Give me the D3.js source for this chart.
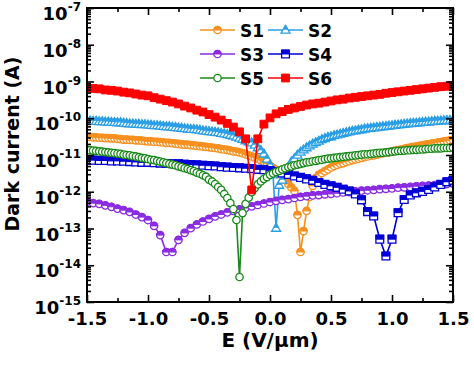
<!DOCTYPE html>
<html><head><meta charset="utf-8">
<script src="https://cdn.jsdelivr.net/npm/d3@7"></script>
<style>
body{margin:0;background:#fff}
svg{display:block}
text{font-family:"DejaVu Sans",sans-serif;font-weight:bold;fill:#000}
</style>
</head><body>
<svg id="c" width="474" height="366"></svg>
<script>
// Electric field sweep grids (V/um)
const fieldStep05 = d3.range(61).map(i => +(-1.5 + i * 0.05).toFixed(3));
const fieldStep025 = d3.range(121).map(i => +(-1.5 + i * 0.025).toFixed(3));

// Dark current values, given as log10(I / A)
const s1Log = [-10.51,-10.51,-10.52,-10.52,-10.53,-10.53,-10.54,-10.54,-10.55,-10.55,
 -10.56,-10.57,-10.58,-10.58,-10.59,-10.59,-10.60,-10.60,-10.61,-10.62,
 -10.63,-10.63,-10.64,-10.64,-10.65,-10.66,-10.67,-10.67,-10.68,-10.69,
 -10.70,-10.71,-10.72,-10.72,-10.73,-10.74,-10.75,-10.76,-10.77,-10.78,
 -10.79,-10.80,-10.81,-10.82,-10.84,-10.85,-10.86,-10.88,-10.90,-10.91,
 -10.93,-10.95,-10.98,-11.01,-11.04,-11.07,-11.10,-11.14,-11.19,-11.24,
 -11.29,
 -11.35,-11.41,-11.49,-11.57,-11.68,-11.79,-11.88,-11.98,-12.63,-13.64,
 -13.07,-12.52,-12.14,-11.84,-11.63,-11.54,-11.49,-11.44,-11.39,-11.34,
 -11.30,-11.27,-11.24,-11.22,-11.19,-11.17,-11.14,-11.12,-11.10,-11.08,
 -11.06,-11.04,-11.02,-11.01,-10.99,-10.97,-10.95,-10.93,-10.92,-10.90,
 -10.88,-10.87,-10.85,-10.83,-10.81,-10.80,-10.78,-10.77,-10.75,-10.74,
 -10.72,-10.71,-10.69,-10.68,-10.66,-10.65,-10.63,-10.62,-10.60,-10.59];
const s2Log = [-10.07,-10.07,-10.08,-10.08,-10.09,-10.09,-10.10,-10.10,-10.11,-10.11,
 -10.12,-10.12,-10.13,-10.14,-10.15,-10.15,-10.16,-10.16,-10.17,-10.17,
 -10.18,-10.19,-10.20,-10.20,-10.21,-10.22,-10.23,-10.23,-10.24,-10.25,
 -10.26,-10.27,-10.28,-10.29,-10.30,-10.30,-10.31,-10.32,-10.34,-10.35,
 -10.36,-10.37,-10.38,-10.39,-10.41,-10.42,-10.44,-10.46,-10.48,-10.51,
 -10.54,-10.57,-10.61,-10.64,-10.67,-10.73,-10.80,-10.88,-10.97,-11.11,
 -11.27,
 -11.54,-12.99,-11.82,-11.68,-11.49,-11.33,-11.19,-11.10,-11.00,-10.92,
 -10.86,-10.80,-10.75,-10.70,-10.66,-10.62,-10.58,-10.55,-10.52,-10.50,
 -10.47,-10.45,-10.43,-10.41,-10.39,-10.37,-10.35,-10.34,-10.32,-10.31,
 -10.29,-10.28,-10.27,-10.26,-10.25,-10.24,-10.23,-10.22,-10.21,-10.20,
 -10.19,-10.18,-10.17,-10.16,-10.15,-10.14,-10.135,-10.13,-10.12,-10.11,
 -10.105,-10.10,-10.09,-10.08,-10.075,-10.07,-10.065,-10.06,-10.055,-10.05];
const s3Log = [-12.27,-12.31,-12.33,-12.37,-12.41,-12.46,-12.50,-12.55,-12.62,-12.69,-12.77,
 -12.93,-13.18,-13.64,-13.64,-13.31,-13.12,-12.99,-12.89,-12.81,-12.74,-12.67,-12.62,-12.56,-12.52,-12.48,-12.44,-12.40,-12.36,-12.32,-12.28,
 -12.25,-12.22,-12.20,-12.17,-12.14,-12.12,-12.10,-12.09,-12.07,-12.06,-12.04,-12.02,-12.01,-11.99,-11.97,-11.96,-11.95,-11.93,-11.92,-11.91,-11.89,-11.88,-11.87,-11.85,-11.84,-11.83,-11.82,-11.81,-11.79,-11.78];
const s4Log = [-11.14,-11.14,-11.15,-11.15,-11.16,-11.16,-11.17,-11.18,-11.19,-11.20,-11.20,
 -11.21,-11.22,-11.23,-11.24,-11.24,-11.25,-11.26,-11.27,-11.28,-11.29,-11.30,-11.32,-11.33,-11.34,-11.35,-11.36,-11.37,-11.39,-11.40,-11.42,
 -11.45,-11.49,-11.53,-11.57,-11.61,-11.65,-11.69,-11.75,-11.80,-11.84,-11.88,-11.93,-11.98,-12.06,-12.22,-12.54,-12.66,-13.29,-13.75,-13.29,-12.57,-12.21,-12.09,-12.03,-11.99,-11.94,-11.87,-11.80,-11.73,-11.69];
const s5Log = [-10.86,-10.87,-10.88,-10.89,-10.90,-10.91,-10.92,-10.93,-10.94,-10.95,-10.96,-10.97,-10.99,-11.00,-11.01,-11.03,-11.04,-11.06,-11.08,-11.09,-11.11,
 -11.13,-11.14,-11.16,-11.18,-11.20,-11.22,-11.24,-11.26,-11.28,-11.31,-11.33,-11.36,-11.38,-11.41,-11.44,-11.48,-11.51,-11.55,-11.59,-11.67,
 -11.72,-11.79,-11.87,-11.95,-12.06,-12.17,-12.31,-12.47,-12.77,-14.32,
 -12.58,-12.33,-12.16,-12.01,-11.90,-11.80,-11.72,-11.65,-11.60,-11.54,
 -11.50,-11.46,-11.43,-11.39,-11.36,-11.33,-11.31,-11.28,-11.26,-11.24,-11.22,-11.20,-11.19,-11.17,-11.16,-11.14,-11.13,-11.11,-11.10,-11.09,
 -11.08,-11.07,-11.06,-11.05,-11.04,-11.03,-11.02,-11.01,-11.00,-10.99,-10.98,-10.98,-10.97,-10.96,-10.95,-10.94,-10.94,-10.93,-10.92,-10.91,
 -10.90,-10.89,-10.89,-10.88,-10.87,-10.87,-10.86,-10.86,-10.85,-10.85,-10.84,-10.83,-10.83,-10.82,-10.82,-10.82,-10.81,-10.81,-10.81,-10.80];
const s6Log = [-9.18,-9.19,-9.20,-9.23,-9.24,-9.26,-9.29,-9.31,-9.34,-9.37,-9.39,-9.44,-9.48,-9.52,-9.56,-9.61,-9.67,-9.72,-9.78,-9.83,-9.90,-9.97,-10.05,-10.14,-10.24,-10.37,-10.56,
 -11.95,-10.56,-10.16,-9.99,-9.88,-9.82,-9.76,-9.72,-9.68,-9.64,-9.61,-9.59,-9.56,-9.53,-9.50,-9.48,-9.45,-9.43,-9.41,-9.39,-9.37,-9.35,-9.32,-9.30,-9.28,-9.26,-9.24,-9.22,-9.20,-9.18,-9.16,-9.14,-9.13,-9.11];

const seriesNames = ["S1","S2","S3","S4","S5","S6"];
const xTickValues = [-1.5,-1.0,-0.5,0.0,0.5,1.0,1.5];
const xMinorTicks = [-1.25,-0.75,-0.25,0.25,0.75,1.25];
const yExponents = [-7,-8,-9,-10,-11,-12,-13,-14,-15];

const styles = [
  {color:"#F7901E", shape:"circle",   fill:"half"},
  {color:"#2B9FE6", shape:"triangle", fill:"half"},
  {color:"#8B2BE2", shape:"circle",   fill:"half"},
  {color:"#0000D6", shape:"square",   fill:"half"},
  {color:"#1A8A1A", shape:"circle",   fill:"open"},
  {color:"#FF0000", shape:"square",   fill:"full"}
];
const logs = [s1Log,s2Log,s3Log,s4Log,s5Log,s6Log];
const grids = [fieldStep025,fieldStep025,fieldStep05,fieldStep05,fieldStep025,fieldStep05];

const L = 87, R = 453, T = 8, B = 302;
const svg = d3.select("#c");
const x = d3.scaleLinear().domain([-1.5,1.5]).range([L,R]);
const y = d3.scaleLog().domain([1e-15,1e-7]).range([B,T]);

svg.append("defs").append("clipPath").attr("id","plot")
  .append("rect").attr("x",L).attr("y",T).attr("width",R-L).attr("height",B-T);

// marker shapes
const shapes = {
  circle:   {full:"M-3.7,0A3.7,3.7 0 1 0 3.7,0A3.7,3.7 0 1 0 -3.7,0Z", top:"M-3.7,0A3.7,3.7 0 0 1 3.7,0Z"},
  square:   {full:"M-3.9,-3.9H3.9V3.9H-3.9Z", top:"M-3.9,-3.9H3.9V0H-3.9Z"},
  triangle: {full:"M0,-4.8L4.5,3.1L-4.5,3.1Z", top:"M0,-4.8L2.25,-0.85L-2.25,-0.85Z"}
};
function drawMarker(g, st){
  const sh = shapes[st.shape];
  if (st.fill === "full") {
    g.append("path").attr("d", sh.full).attr("fill", st.color).attr("stroke", st.color).attr("stroke-width",1);
  } else {
    g.append("path").attr("d", sh.full).attr("fill", "#fff").attr("stroke", st.color).attr("stroke-width",1.3);
    if (st.fill === "half") g.append("path").attr("d", sh.top).attr("fill", st.color).attr("stroke", st.color).attr("stroke-width",1);
  }
}

const plot = svg.append("g").attr("clip-path","url(#plot)");
const line = d3.line().x(d => x(d.e)).y(d => y(d.i));
seriesNames.forEach((name, k) => {
  const st = styles[k];
  const pts = grids[k].map((e, j) => ({e, i: Math.pow(10, logs[k][j])}));
  const g = plot.append("g");
  g.append("path").datum(pts).attr("d", line).attr("fill","none").attr("stroke", st.color).attr("stroke-width",1.6);
  g.selectAll("g.m").data(pts).join("g").attr("class","m")
    .attr("transform", d => `translate(${x(d.e)},${y(d.i)})`)
    .each(function(){ drawMarker(d3.select(this), st); });
});

// axes
function styleAxis(g){ g.select(".domain").remove(); g.selectAll("line").attr("stroke","#000").attr("stroke-width",1.6); }
const xAxis = svg.append("g").attr("transform",`translate(0,${B})`)
  .call(d3.axisBottom(x).tickValues(xTickValues).tickSize(-7).tickPadding(10).tickFormat(d => d.toFixed(1)))
  .call(styleAxis);
xAxis.selectAll("text").attr("font-size",18).attr("font-family","DejaVu Sans, sans-serif").attr("font-weight","bold").attr("fill","#000");
svg.append("g").attr("transform",`translate(0,${B})`)
  .call(d3.axisBottom(x).tickValues(xMinorTicks).tickSize(-4).tickFormat("")).call(styleAxis);
svg.append("g").attr("transform",`translate(0,${T})`)
  .call(d3.axisTop(x).tickValues(xTickValues).tickSize(-7).tickFormat("")).call(styleAxis);
svg.append("g").attr("transform",`translate(0,${T})`)
  .call(d3.axisTop(x).tickValues(xMinorTicks).tickSize(-4).tickFormat("")).call(styleAxis);

const majorY = yExponents.map(e => Math.pow(10, e));
const minorY = [];
for (let e = -15; e < -7; e++) for (let m = 2; m <= 9; m++) minorY.push(m * Math.pow(10, e));
[[d3.axisLeft, L],[d3.axisRight, R]].forEach(([ax, pos]) => {
  svg.append("g").attr("transform",`translate(${pos},0)`)
    .call(ax(y).tickValues(majorY).tickSize(-7).tickFormat("")).call(styleAxis);
  svg.append("g").attr("transform",`translate(${pos},0)`)
    .call(ax(y).tickValues(minorY).tickSize(-4).tickFormat("")).call(styleAxis);
});

// y tick labels 10^n
yExponents.forEach(e => {
  const t = svg.append("text").attr("x", 81).attr("y", y(Math.pow(10,e)) + 12)
    .attr("text-anchor","end").attr("font-size",18);
  t.append("tspan").text("10");
  t.append("tspan").attr("dy",-9).attr("font-size",12).text(String(e).replace("\u2212","-"));
});

// frame
svg.append("rect").attr("x",L).attr("y",T).attr("width",R-L).attr("height",B-T)
  .attr("fill","none").attr("stroke","#000").attr("stroke-width",2);

// axis titles
svg.append("text").attr("x",(L+R)/2).attr("y",347).attr("text-anchor","middle").attr("font-size",20).text("E (V/\u03BCm)");
svg.append("text").attr("transform",`translate(19,144) rotate(-90)`).attr("text-anchor","middle").attr("font-size",19).text("Dark current (A)");

// legend
const legendPos = [[200,30],[268,30],[200,54],[268,54],[200,78],[268,78]];
seriesNames.forEach((name,k) => {
  const [lx, ly] = legendPos[k];
  const st = styles[k];
  const g = svg.append("g");
  g.append("line").attr("x1",lx).attr("x2",lx+35).attr("y1",ly).attr("y2",ly).attr("stroke",st.color).attr("stroke-width",1.6);
  drawMarker(g.append("g").attr("transform",`translate(${lx+17.5},${ly})`), st);
  g.append("text").attr("x",lx+40).attr("y",ly+6.5).attr("font-size",17).text(name);
});
</script>
</body></html>
